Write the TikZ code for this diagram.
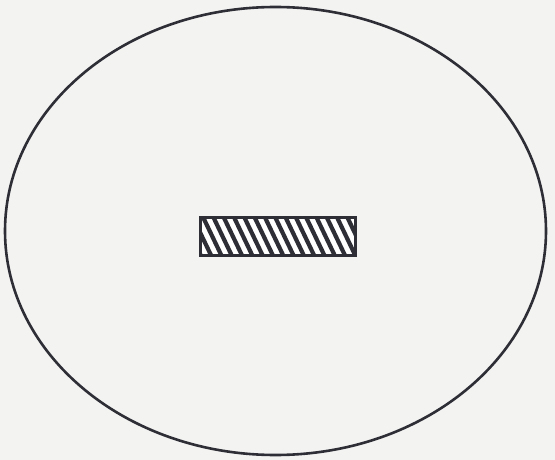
\documentclass[tikz,border=0pt]{standalone}
\definecolor{paper}{HTML}{F3F3F2}
\definecolor{ink}{HTML}{2E2E36}
\tikzset{
  outline/.style={draw=ink, line width=2.6pt},
  hatch/.style={ink, line width=4.2pt},
}
\begin{document}
\begin{tikzpicture}[x=1pt,y=-1pt]
\fill[paper] (0,0) rectangle (555,460);
\useasboundingbox (0,0) rectangle (555,460);
% outer ellipse
\draw[outline] (275.5,231) ellipse [x radius=270.5, y radius=224];
% hatched bar
\begin{scope}
  \clip (200,217) rectangle (355,255);
  \fill[white] (200,217) rectangle (355,255);
  \foreach \i in {0,...,18} {
    \draw[hatch] ({180+\i*10.3},212) -- ({180+\i*10.3+23},260);
  }
\end{scope}
\draw[outline, line width=3pt] (200,217) rectangle (355,255);
\end{tikzpicture}
\end{document}
